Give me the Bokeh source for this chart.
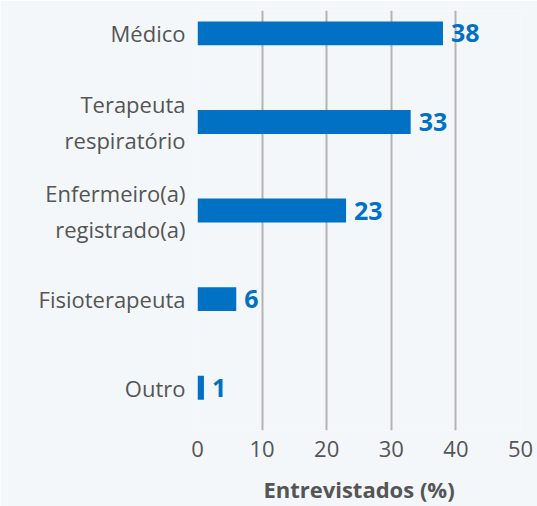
from bokeh.plotting import figure
from bokeh.models import ColumnDataSource, Range1d, FixedTicker
from bokeh.core.properties import value
from bokeh.embed import file_html
from bokeh.resources import INLINE

categories = ["Médico", "Terapeuta\nrespiratório", "Enfermeiro(a)\nregistrado(a)", "Fisioterapeuta", "Outro"]
values = [38, 33, 23, 6, 1]
x_ticks = [0, 10, 20, 30, 40, 50]

ypos = list(range(len(categories)))
src = ColumnDataSource(dict(y=ypos, v=values, lbl=[str(v) for v in values]))

BG = "#f3f7fa"
FONT = "Open Sans"

p = figure(width=537, height=506, output_backend="svg", toolbar_location=None,
           x_range=Range1d(0, 50), y_range=Range1d(len(categories) - 1 + 0.483, -0.258),
           min_border_left=197, min_border_right=17, min_border_top=10, min_border_bottom=74)
p.background_fill_color = BG
p.border_fill_color = BG
p.outline_line_color = None

p.hbar(y="y", right="v", left=0, height=0.27, source=src, color="#0071c5", line_color=None)
p.text(x="v", y="y", text="lbl", source=src, x_offset=8, text_baseline="middle", text_align="left",
       text_font=value(FONT), text_font_style="bold", text_font_size="25px", text_color="#0071c5")

p.xgrid.ticker = FixedTicker(ticks=x_ticks)
p.xgrid.grid_line_color = "#b3b3b3"
p.xgrid.grid_line_width = 2
p.ygrid.grid_line_color = None

p.xaxis.ticker = FixedTicker(ticks=x_ticks)
p.xaxis.axis_line_color = None
p.xaxis.major_tick_line_color = None
p.xaxis.minor_tick_line_color = None
p.xaxis.major_label_text_font = FONT
p.xaxis.major_label_text_font_size = "22px"
p.xaxis.major_label_text_color = "#555555"
p.xaxis.major_label_standoff = 4
p.xaxis.axis_label = "Entrevistados (%)"
p.xaxis.axis_label_text_font = FONT
p.xaxis.axis_label_text_font_size = "22px"
p.xaxis.axis_label_text_font_style = "bold"
p.xaxis.axis_label_text_color = "#555555"
p.xaxis.axis_label_standoff = 14

p.yaxis.ticker = FixedTicker(ticks=ypos)
p.yaxis.major_label_overrides = {i: c for i, c in enumerate(categories)}
p.yaxis.axis_line_color = None
p.yaxis.major_tick_line_color = None
p.yaxis.minor_tick_line_color = None
p.yaxis.major_label_text_font = FONT
p.yaxis.major_label_text_font_size = "22px"
p.yaxis.major_label_text_color = "#555555"
p.yaxis.major_label_standoff = 6

open("out.html", "w").write(file_html(p, INLINE))
